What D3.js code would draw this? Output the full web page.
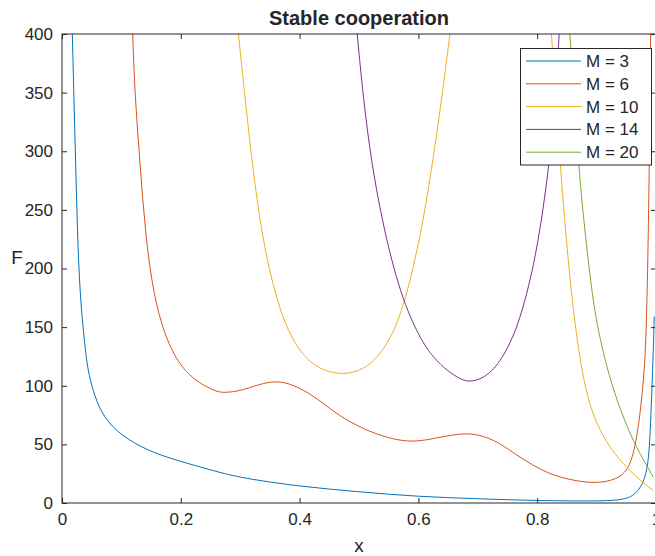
<!DOCTYPE html>
<html>
<head>
<meta charset="utf-8">
<script src="https://cdn.jsdelivr.net/npm/d3@7"></script>
<style>
  body { margin: 0; background: #fff; }
  text { font-family: "Liberation Sans", Arial, sans-serif; fill: #262626; }
</style>
</head>
<body>
<script>
// values: [x, F]
var seriesNames = ['M = 3', 'M = 6', 'M = 10', 'M = 14', 'M = 20'];
var colors = ['#0072BD', '#D95319', '#EDB120', '#7E2F8E', '#77AC30'];

var m3 = [[0.0174,400],[0.020,346],[0.023,290],[0.0258,233],[0.0303,176],[0.0387,133],
  [0.0443,110],[0.0584,85],[0.078,67.6],[0.1117,53.4],[0.1566,42],[0.2127,33.5],
  [0.2576,27.2],[0.30,21.5],[0.40,14.1],[0.50,9.5],[0.597,5.5],[0.70,3.6],[0.793,2.1],
  [0.88,1.6],[0.934,2],[0.962,5],[0.979,16.4],[0.987,33.5],[0.990,57],[0.993,95],
  [0.9955,130],[0.997,159]];

var m6 = [[0.119,400],[0.1229,346],[0.1313,290],[0.1397,233],[0.1538,176],[0.179,133],
  [0.2127,107.4],[0.2576,95],[0.273,94],[0.30,95.5],[0.33,101],[0.365,105],[0.40,98.5],
  [0.43,89],[0.457,78],[0.485,69],[0.513,62],[0.545,56],[0.586,51.5],[0.625,54.8],[0.66,58.5],
  [0.69,59.5],[0.715,56],[0.737,51],[0.765,41],[0.793,32],[0.82,25],[0.85,20.3],[0.894,16.5],
  [0.928,19.2],[0.948,25],[0.962,39],[0.973,73],[0.981,116],[0.984,153],[0.987,225],
  [0.9895,320],[0.991,400]];

// M = 10 has two branches
var m10a = [[0.297,400],[0.3137,318],[0.328,258],[0.3446,206],[0.3726,153],[0.406,124],
  [0.44,112.5],[0.4736,109.5],[0.50,112.5],[0.524,120],[0.55,137],[0.5746,165],[0.6027,225],
  [0.622,283],[0.642,355],[0.653,400]];
var m10b = [[0.824,400],[0.838,292],[0.851,212],[0.861,163],[0.872,121],[0.889,79],
  [0.917,50.6],[0.945,33],[0.973,19.2],[0.9955,10.7]];

var m14 = [[0.497,400],[0.507,346],[0.521,290],[0.541,235],[0.57,177],[0.6027,140],
  [0.625,124],[0.65,112],[0.67,106],[0.684,103],[0.71,106],[0.737,119],[0.7655,147],
  [0.788,188],[0.805,232],[0.8204,289.7],[0.83,340],[0.837,400]];

var m20 = [[0.855,400],[0.869,290],[0.880,233],[0.892,180],[0.900,155],[0.906,140],
  [0.917,116],[0.934,87.5],[0.956,59],[0.973,42],[0.9955,22]];

var curves = [
  { s: 0, pts: m3 }, { s: 1, pts: m6 }, { s: 2, pts: m10a }, { s: 2, pts: m10b },
  { s: 3, pts: m14 }, { s: 4, pts: m20 }
];

var xTicks = [0, 0.2, 0.4, 0.6, 0.8, 1];
var yTicks = [0, 50, 100, 150, 200, 250, 300, 350, 400];

var width = 655, height = 556;
var margin = { left: 62, top: 34 };
var plotW = 594, plotH = 469;

var svg = d3.select('body').append('svg')
  .attr('width', width)
  .attr('height', height);

var xScale = d3.scaleLinear().domain([0, 1]).range([0, plotW]);
var yScale = d3.scaleLinear().domain([0, 400]).range([plotH, 0]);

var g = svg.append('g')
  .attr('transform', 'translate(' + margin.left + ',' + margin.top + ')');

g.append('clipPath').attr('id', 'clip')
  .append('rect').attr('width', plotW).attr('height', plotH);

var line = d3.line()
  .x(function(d) { return xScale(d[0]); })
  .y(function(d) { return yScale(d[1]); })
  .curve(d3.curveBasis);

g.append('g').attr('clip-path', 'url(#clip)')
  .selectAll('path')
  .data(curves)
  .enter().append('path')
  .attr('d', function(d) { return line(d.pts); })
  .attr('fill', 'none')
  .attr('stroke', function(d) { return colors[d.s]; })
  .attr('stroke-width', 1);

// axes, matlab style: ticks inside, box round the plot
var axisColor = '#262626';

var xAxis = d3.axisBottom(xScale).tickValues(xTicks)
  .tickSizeInner(-5).tickSizeOuter(0).tickPadding(10)
  .tickFormat(d3.format('~g'));
var yAxis = d3.axisLeft(yScale).tickValues(yTicks)
  .tickSizeInner(-5).tickSizeOuter(0).tickPadding(9);

var gx = g.append('g').attr('transform', 'translate(0,' + plotH + ')').call(xAxis);
var gy = g.append('g').call(yAxis);
var gt = g.append('g').call(d3.axisTop(xScale).tickValues(xTicks)
  .tickSizeInner(-5).tickSizeOuter(0).tickFormat(''));
var gr = g.append('g').attr('transform', 'translate(' + plotW + ',0)')
  .call(d3.axisRight(yScale).tickValues(yTicks)
  .tickSizeInner(-5).tickSizeOuter(0).tickFormat(''));

[gx, gy, gt, gr].forEach(function(a) {
  a.select('.domain').remove();
  a.selectAll('line').attr('stroke', axisColor);
  a.selectAll('text').attr('font-size', 17).attr('fill', axisColor)
    .style('font-family', '"Liberation Sans", Arial, sans-serif');
});
gx.selectAll('text').attr('dy', '0.72em');

g.append('rect')
  .attr('width', plotW).attr('height', plotH)
  .attr('fill', 'none')
  .attr('stroke', axisColor)
  .attr('stroke-width', 1);

// title and axis labels
svg.append('text')
  .attr('x', margin.left + plotW / 2).attr('y', 25)
  .attr('text-anchor', 'middle')
  .attr('font-size', 20).attr('font-weight', 'bold')
  .attr('fill', '#000')
  .text('Stable cooperation');

svg.append('text')
  .attr('x', margin.left + plotW / 2).attr('y', 552)
  .attr('text-anchor', 'middle')
  .attr('font-size', 19)
  .text('x');

svg.append('text')
  .attr('x', 17).attr('y', 264)
  .attr('text-anchor', 'middle')
  .attr('font-size', 19)
  .text('F');

// legend
var legend = svg.append('g');
legend.append('rect')
  .attr('x', 520.5).attr('y', 48.5)
  .attr('width', 131).attr('height', 116.5)
  .attr('fill', '#fff')
  .attr('stroke', axisColor)
  .attr('stroke-width', 1);

var rows = legend.selectAll('g.row')
  .data(seriesNames)
  .enter().append('g')
  .attr('class', 'row')
  .attr('transform', function(d, i) { return 'translate(0,' + (61 + i * 22.8) + ')'; });

rows.append('line')
  .attr('x1', 526).attr('x2', 581)
  .attr('stroke', function(d, i) { return colors[i]; })
  .attr('stroke-width', 1);

rows.append('text')
  .attr('x', 586).attr('dy', '0.35em')
  .attr('font-size', 17)
  .text(function(d) { return d; });
</script>
</body>
</html>
